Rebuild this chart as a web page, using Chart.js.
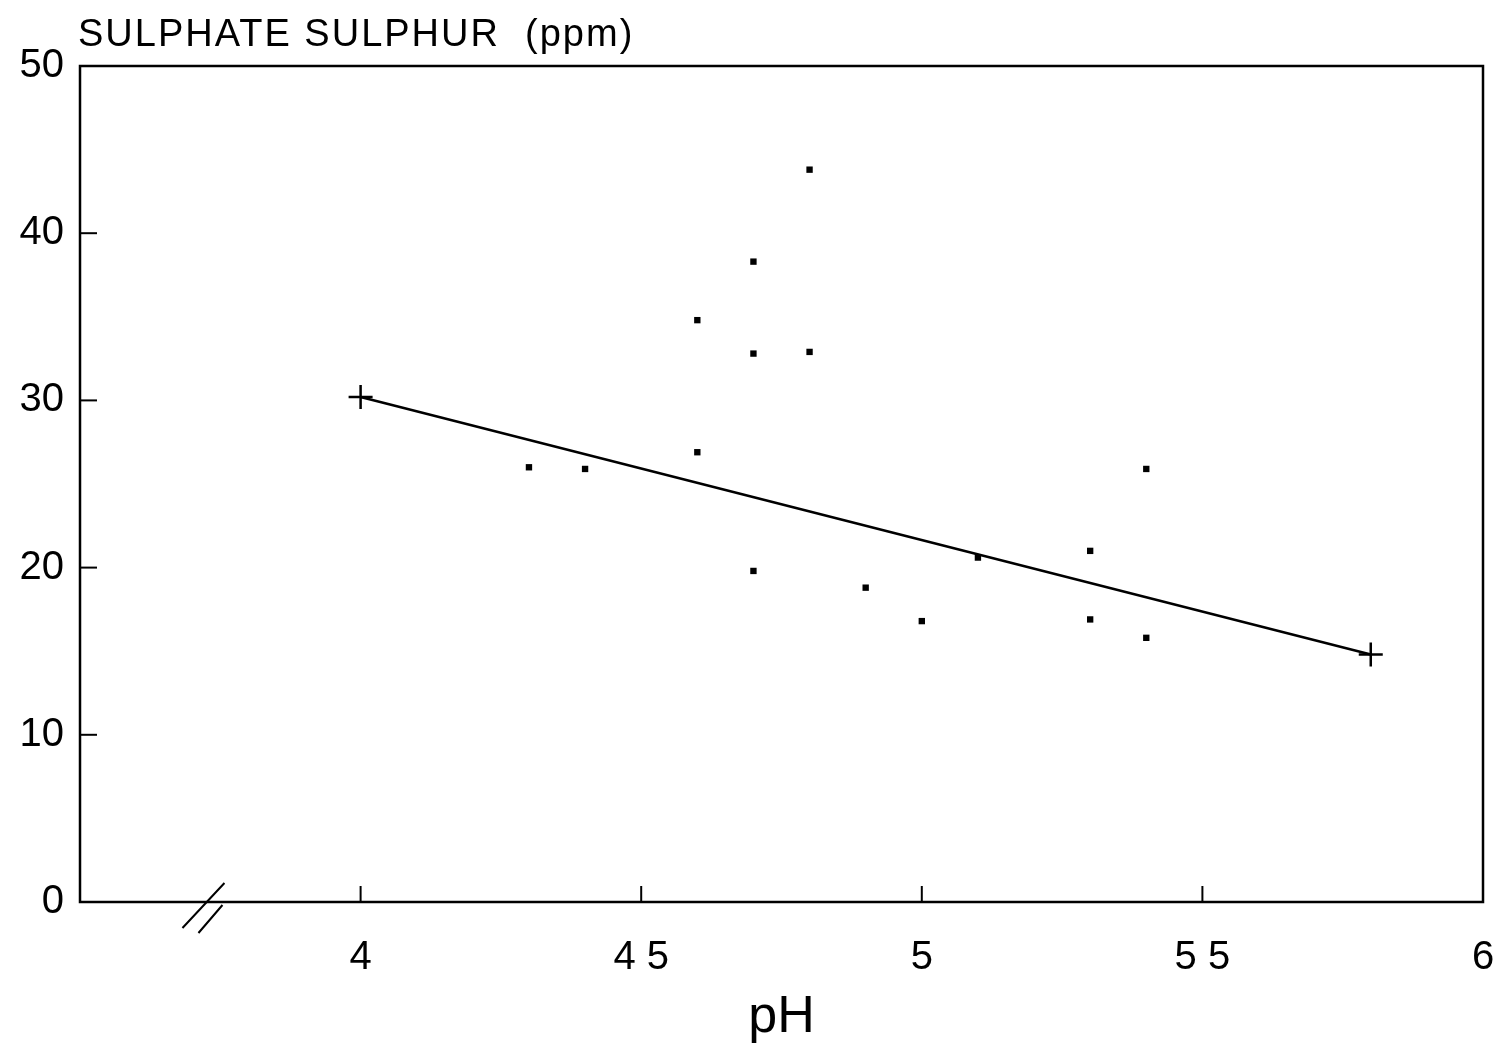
<!DOCTYPE html>
<html>
<head>
<meta charset="utf-8">
<script src="https://cdn.jsdelivr.net/npm/chart.js@4.4.1/dist/chart.umd.min.js"></script>
<style>
  html, body { margin: 0; padding: 0; background: #fff; }
  #wrap { width: 1507px; height: 1049px; }
</style>
</head>
<body>
<div id="wrap"><canvas id="sulphurChart" width="1507" height="1049"></canvas></div>
<script>
// Sample data
const phValues = [4.3, 4.4, 4.6, 4.6, 4.7, 4.7, 4.7, 4.8, 4.8, 4.9, 5.0, 5.1, 5.3, 5.3, 5.4, 5.4];
const sulphurValues = [26.0, 25.9, 34.8, 26.9, 38.3, 32.8, 19.8, 43.8, 32.9, 18.8, 16.8, 20.6, 21.0, 16.9, 25.9, 15.8];

// Fitted line, end points marked with a cross
const fitPh = [4.0, 5.8];
const fitSulphur = [30.2, 14.8];

// Axis ticks
const xTickValues = [4, 4.5, 5, 5.5, 6];
const xTickLabels = ['4', '4 5', '5', '5 5', '6'];
const yTickValues = [0, 10, 20, 30, 40, 50];
const xBreakAt = 3.72; // where the axis break "//" sits

const FONT = '"Liberation Sans", Arial, sans-serif';

// Frame, inward tick marks, axis break and top-left title
const framePlugin = {
    id: 'framePlugin',
    afterDraw(chart) {
        const ctx = chart.ctx;
        const area = chart.chartArea;
        const xs = chart.scales.x;
        const ys = chart.scales.y;
        ctx.save();
        ctx.strokeStyle = '#000';
        ctx.lineWidth = 2.5;
        ctx.strokeRect(area.left, area.top, area.right - area.left, area.bottom - area.top);

        // inward ticks
        ctx.lineWidth = 2;
        xTickValues.forEach(v => {
            if (v >= xs.max) return;
            const px = xs.getPixelForValue(v);
            ctx.beginPath();
            ctx.moveTo(px, area.bottom);
            ctx.lineTo(px, area.bottom - 16);
            ctx.stroke();
        });
        yTickValues.forEach(v => {
            if (v <= ys.min || v >= ys.max) return;
            const py = ys.getPixelForValue(v);
            ctx.beginPath();
            ctx.moveTo(area.left, py);
            ctx.lineTo(area.left + 17, py);
            ctx.stroke();
        });

        // axis break
        const bx = xs.getPixelForValue(xBreakAt);
        ctx.lineWidth = 2;
        ctx.beginPath();
        ctx.moveTo(bx - 21, area.bottom + 26);
        ctx.lineTo(bx + 21, area.bottom - 19);
        ctx.moveTo(bx - 5, area.bottom + 31);
        ctx.lineTo(bx + 19, area.bottom + 3);
        ctx.stroke();

        // y-axis title above the plot
        ctx.fillStyle = '#000';
        ctx.font = '38px ' + FONT;
        ctx.textBaseline = 'alphabetic';
        ctx.textAlign = 'left';
        ctx.letterSpacing = '2px';
        ctx.fillText('SULPHATE SULPHUR  (ppm)', area.left - 2, area.top - 20);
        ctx.restore();
    }
};

const ctx = document.getElementById('sulphurChart').getContext('2d');
const sulphurChart = new Chart(ctx, {
    type: 'scatter',
    data: {
        datasets: [
            {
                label: 'Samples',
                data: phValues.map((p, i) => ({ x: p, y: sulphurValues[i] })),
                pointStyle: 'rect',
                pointRadius: 4.5,
                backgroundColor: '#000',
                borderColor: '#000',
                borderWidth: 0
            },
            {
                label: 'Fit',
                type: 'line',
                data: fitPh.map((p, i) => ({ x: p, y: fitSulphur[i] })),
                borderColor: '#000',
                borderWidth: 2.5,
                pointStyle: 'cross',
                pointRadius: 12,
                pointBorderWidth: 2.5,
                pointBorderColor: '#000',
                fill: false
            }
        ]
    },
    options: {
        responsive: false,
        animation: false,
        layout: {
            padding: { left: 0, top: 66, right: 24, bottom: 0 }
        },
        plugins: {
            legend: { display: false },
            tooltip: { enabled: false },
            title: { display: false }
        },
        scales: {
            x: {
                type: 'linear',
                min: 3.5,
                max: 6,
                afterBuildTicks: scale => {
                    scale.ticks = xTickValues.map(v => ({ value: v }));
                },
                afterFit: scale => {
                    scale.height = 147;
                    scale.paddingLeft = 0;
                    scale.paddingRight = 0;
                },
                grid: { display: false, drawTicks: false },
                border: { display: false },
                ticks: {
                    padding: 32,
                    color: '#000',
                    font: { family: FONT, size: 40 },
                    maxRotation: 0,
                    autoSkip: false,
                    callback: value => xTickLabels[xTickValues.indexOf(value)]
                },
                title: {
                    display: true,
                    text: 'pH',
                    color: '#000',
                    font: { family: FONT, size: 52 },
                    padding: { top: 0, bottom: 0 }
                }
            },
            y: {
                min: 0,
                max: 50,
                afterBuildTicks: scale => {
                    scale.ticks = yTickValues.map(v => ({ value: v }));
                },
                afterFit: scale => {
                    scale.width = 80;
                    scale.paddingTop = 0;
                    scale.paddingBottom = 0;
                },
                grid: { display: false, drawTicks: false },
                border: { display: false },
                ticks: {
                    padding: 16,
                    color: '#000',
                    font: { family: FONT, size: 40 }
                }
            }
        }
    },
    plugins: [framePlugin]
});
</script>
</body>
</html>
